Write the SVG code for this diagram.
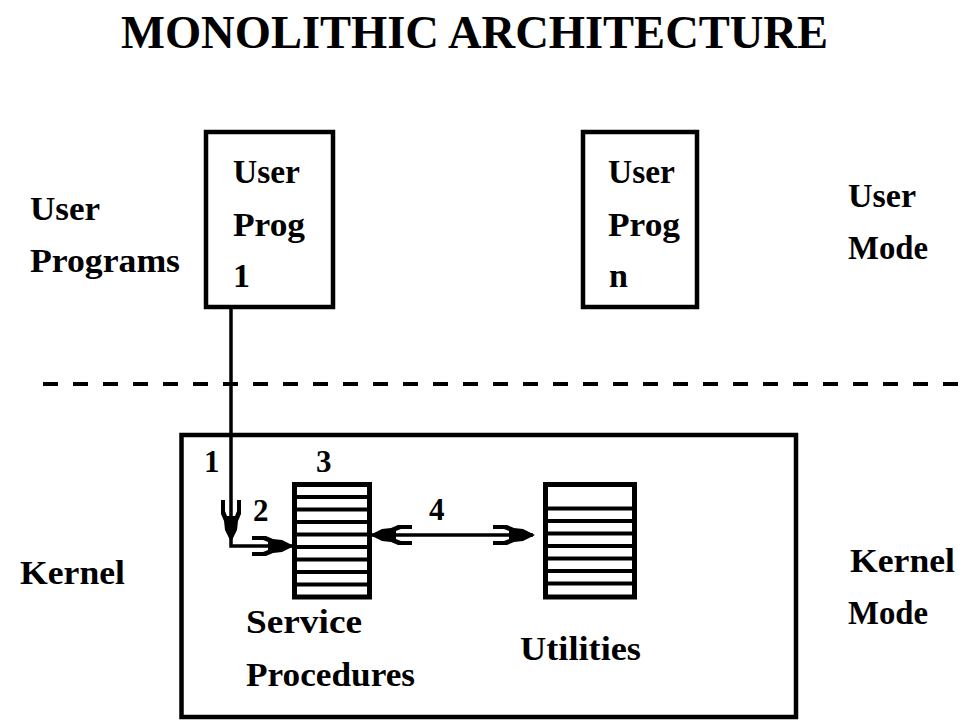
<svg xmlns="http://www.w3.org/2000/svg" xmlns:xlink="http://www.w3.org/1999/xlink" width="970" height="722" viewBox="0 0 970 722">
  <style>
    text { font-family: "Liberation Serif", "Times New Roman", serif; font-weight: bold; fill: #000; }
    .lbl { font-size: 34px; }
    .num { font-size: 31px; }
    .title { font-size: 46px; }
    .box { fill: #fff; stroke: #000; stroke-width: 4.5; }
    .stack { fill: #fff; stroke: #000; stroke-width: 5; }
    .rung { stroke: #000; stroke-width: 4; }
    .wire { fill: none; stroke: #000; stroke-width: 3.5; }
    .dash { stroke: #000; stroke-width: 4; stroke-dasharray: 15 15; }
  </style>
  <defs>
    <!-- barbed arrowhead, tip at origin, pointing +x -->
    <path id="ah" d="M2,0 L-10,-6 L-19,-7 L-26,-10 L-40,-10 L-40,-6 L-29,-6 L-24,-4 L-24,4 L-29,6 L-40,6 L-40,10 L-26,10 L-19,7 L-10,6 Z" fill="#000"/>
  </defs>

  <rect width="970" height="722" fill="#fff"/>

  <text class="title" x="121" y="48" textLength="707" lengthAdjust="spacingAndGlyphs">MONOLITHIC ARCHITECTURE</text>

  <!-- side labels -->
  <g id="user-programs-label">
    <text class="lbl" x="30" y="220" textLength="70" lengthAdjust="spacingAndGlyphs">User</text>
    <text class="lbl" x="30" y="272" textLength="150" lengthAdjust="spacingAndGlyphs">Programs</text>
  </g>
  <g id="user-mode-label">
    <text class="lbl" x="848" y="207" textLength="68" lengthAdjust="spacingAndGlyphs">User</text>
    <text class="lbl" x="848" y="259" textLength="80" lengthAdjust="spacingAndGlyphs">Mode</text>
  </g>
  <g id="kernel-label">
    <text class="lbl" x="20" y="584" textLength="105" lengthAdjust="spacingAndGlyphs">Kernel</text>
  </g>
  <g id="kernel-mode-label">
    <text class="lbl" x="850" y="572" textLength="105" lengthAdjust="spacingAndGlyphs">Kernel</text>
    <text class="lbl" x="848" y="624" textLength="80" lengthAdjust="spacingAndGlyphs">Mode</text>
  </g>

  <!-- user / kernel boundary -->
  <line class="dash" x1="43" y1="384" x2="970" y2="384"/>

  <!-- user programs -->
  <g id="user-prog-1">
    <rect class="box" x="206" y="132" width="127" height="175"/>
    <text class="lbl" x="233" y="183" textLength="67" lengthAdjust="spacingAndGlyphs">User</text>
    <text class="lbl" x="233" y="236" textLength="72" lengthAdjust="spacingAndGlyphs">Prog</text>
    <text class="lbl" x="233" y="287">1</text>
  </g>
  <g id="user-prog-n">
    <rect class="box" x="583" y="132" width="114" height="175"/>
    <text class="lbl" x="608" y="183" textLength="67" lengthAdjust="spacingAndGlyphs">User</text>
    <text class="lbl" x="608" y="236" textLength="72" lengthAdjust="spacingAndGlyphs">Prog</text>
    <text class="lbl" x="609" y="287">n</text>
  </g>

  <!-- kernel -->
  <g id="kernel">
    <rect class="box" x="181.5" y="435" width="614.5" height="282"/>
  </g>

  <g id="service-procedures">
    <rect class="stack" x="294.5" y="484.5" width="75" height="112.5"/>
    <g class="rung">
      <line x1="294.5" y1="497" x2="369.5" y2="497"/>
      <line x1="294.5" y1="509.5" x2="369.5" y2="509.5"/>
      <line x1="294.5" y1="522" x2="369.5" y2="522"/>
      <line x1="294.5" y1="534.5" x2="369.5" y2="534.5"/>
      <line x1="294.5" y1="547" x2="369.5" y2="547"/>
      <line x1="294.5" y1="559.5" x2="369.5" y2="559.5"/>
      <line x1="294.5" y1="572" x2="369.5" y2="572"/>
      <line x1="294.5" y1="584.5" x2="369.5" y2="584.5"/>
    </g>
    <text class="lbl" x="246" y="633" textLength="116" lengthAdjust="spacingAndGlyphs">Service</text>
    <text class="lbl" x="246" y="686" textLength="169" lengthAdjust="spacingAndGlyphs">Procedures</text>
  </g>

  <g id="utilities">
    <rect class="stack" x="545.5" y="484.5" width="89" height="112.5"/>
    <g class="rung">
      <line x1="545.5" y1="508.5" x2="634.5" y2="508.5"/>
      <line x1="545.5" y1="521" x2="634.5" y2="521"/>
      <line x1="545.5" y1="533.5" x2="634.5" y2="533.5"/>
      <line x1="545.5" y1="546" x2="634.5" y2="546"/>
      <line x1="545.5" y1="558.5" x2="634.5" y2="558.5"/>
      <line x1="545.5" y1="571" x2="634.5" y2="571"/>
      <line x1="545.5" y1="583.5" x2="634.5" y2="583.5"/>
    </g>
    <text class="lbl" x="520" y="660" textLength="121" lengthAdjust="spacingAndGlyphs">Utilities</text>
  </g>

  <!-- connectors -->
  <g id="connectors">
    <polyline class="wire" points="231,309 231,546 292,546"/>
    <use xlink:href="#ah" transform="translate(231,540) rotate(90)"/>
    <use xlink:href="#ah" transform="translate(292,546)"/>
    <line class="wire" x1="372" y1="535" x2="533" y2="535"/>
    <use xlink:href="#ah" transform="translate(372,535) rotate(180)"/>
    <use xlink:href="#ah" transform="translate(533,535)"/>
    <text class="num" x="204" y="472">1</text>
    <text class="num" x="253" y="521">2</text>
    <text class="num" x="316" y="472">3</text>
    <text class="num" x="429" y="520">4</text>
  </g>
</svg>
